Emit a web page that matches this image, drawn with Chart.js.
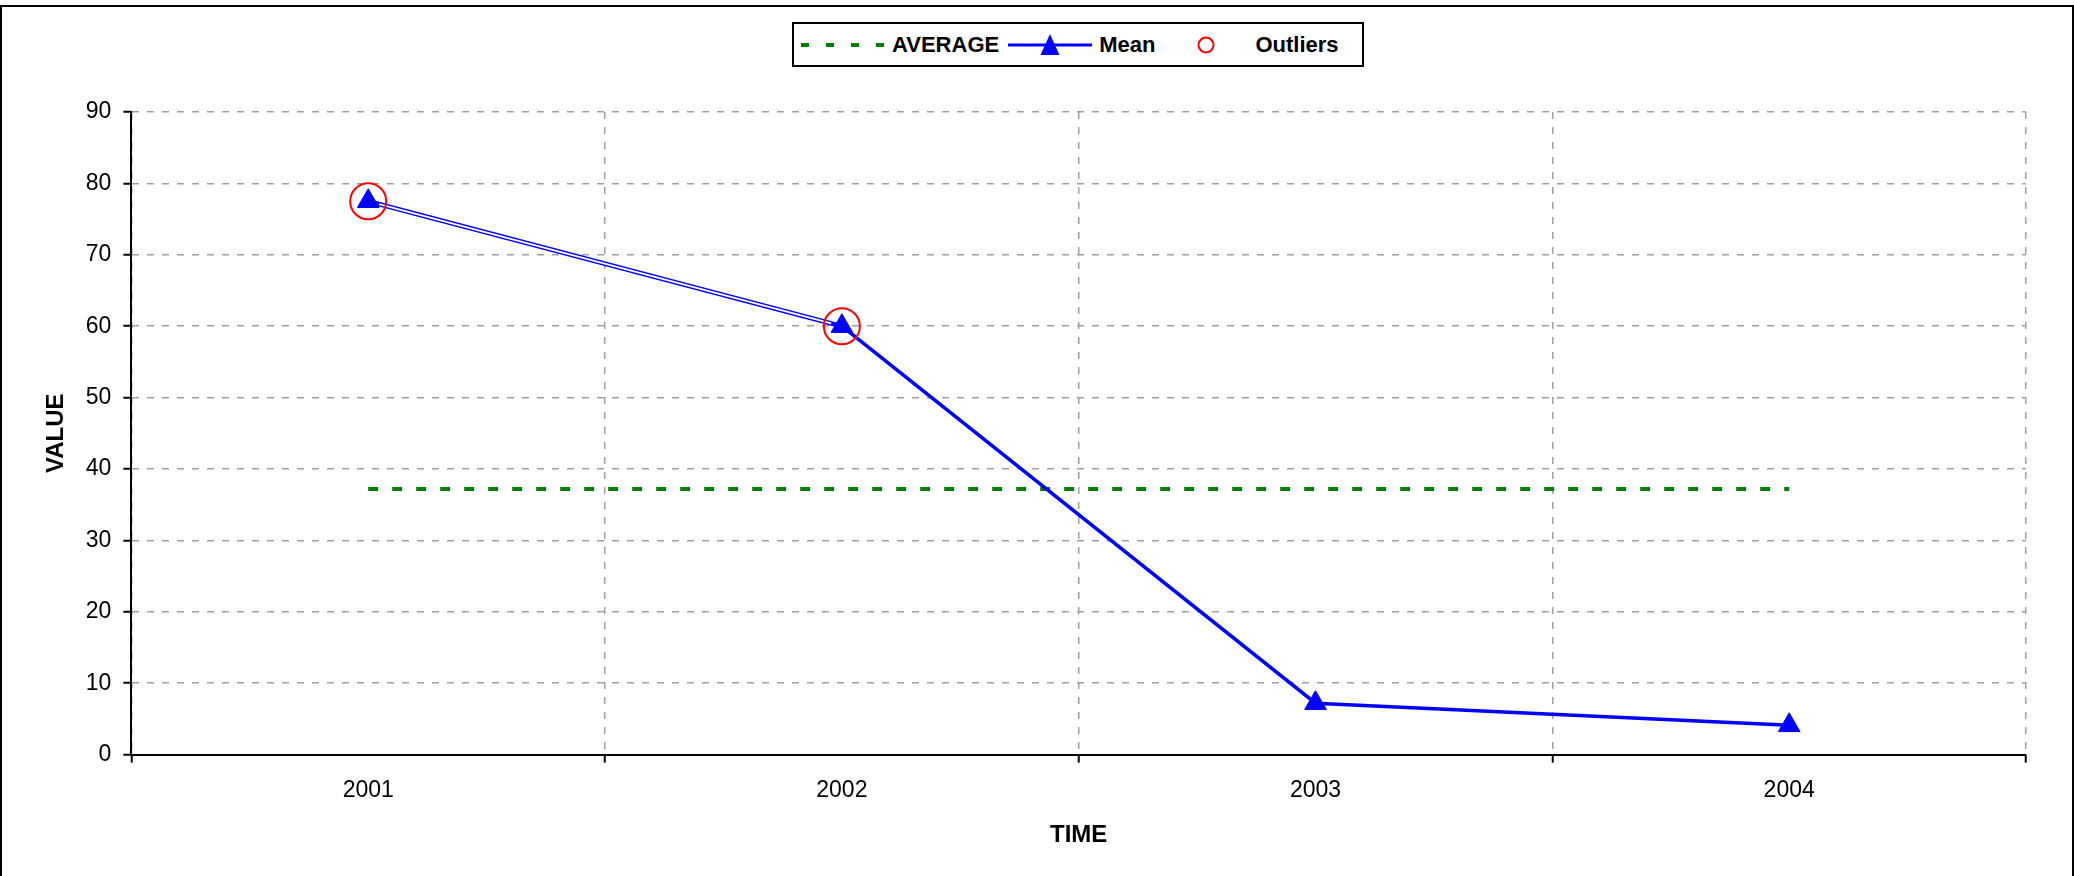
<!DOCTYPE html>
<html>
<head>
<meta charset="utf-8">
<script src="https://cdn.jsdelivr.net/npm/chart.js@4"></script>
<style>
    body { margin: 0; background: #fff; }
    #marco { position: relative; width: 2074px; height: 876px; font-family: 'Liberation Sans', Arial, sans-serif; }
    #borde { position: absolute; left: 0; top: 5px; width: 2074px; height: 880px; border: 2px solid #000; box-sizing: border-box; pointer-events: none; }
    #leyenda { position: absolute; left: 792px; top: 22px; width: 572px; height: 45px; border: 2px solid #000; box-sizing: border-box;
        display: flex; align-items: center; padding-left: 7px; background: #fff; }
    .item { display: flex; align-items: center; margin-right: 9px; }
    .item span { font-weight: bold; font-size: 22px; margin-left: 7px; color: #000; }
</style>
</head>
<body>
<div id="marco">
    <canvas id="grafico"></canvas>
    <div id="borde"></div>
    <div id="leyenda"></div>
</div>
<script>
const anios = ['2001', '2002', '2003', '2004'];
const valoresMedia = [77.5, 60, 7.2, 4.1];
const valoresPromedio = [37.2, 37.2, 37.2, 37.2];
const valoresAtipicos = [77.5, 60, null, null];
const ticksY = [0, 10, 20, 30, 40, 50, 60, 70, 80, 90];

const fuente = "'Liberation Sans', Arial, sans-serif";

// linea doble en el primer tramo de la media
const lineaDoble = {
    id: 'lineaDoble',
    afterDatasetDraw(chart, args) {
        if (chart.data.datasets[args.index].label !== 'Mean') return;
        const a = args.meta.data[0], b = args.meta.data[1];
        const dx = b.x - a.x, dy = b.y - a.y;
        const len = Math.sqrt(dx * dx + dy * dy);
        const ux = dx / len, uy = dy / len;
        const c = chart.ctx;
        c.save();
        c.strokeStyle = '#fff';
        c.lineWidth = 1.8;
        c.beginPath();
        c.moveTo(a.x + ux * 11, a.y + uy * 11);
        c.lineTo(b.x - ux * 11, b.y - uy * 11);
        c.stroke();
        c.restore();
    }
};

const ctx = document.getElementById('grafico').getContext('2d');

const miGrafico = new Chart(ctx, {
    type: 'line',
    data: {
        labels: anios,
        datasets: [{
            label: 'AVERAGE',
            data: valoresPromedio,
            borderColor: '#008000',
            borderWidth: 4,
            borderDash: [10, 14],
            pointRadius: 0,
            fill: false,
            order: 2
        }, {
            label: 'Mean',
            data: valoresMedia,
            borderColor: '#0000ff',
            backgroundColor: '#0000ff',
            borderWidth: 3.5,
            pointStyle: 'triangle',
            pointRadius: 12.5,
            pointBorderWidth: 1,
            fill: false,
            order: 1,
            segment: {
                borderWidth: c => c.p0DataIndex === 0 ? 4.6 : 3.5
            }
        }, {
            label: 'Outliers',
            data: valoresAtipicos,
            showLine: false,
            borderColor: '#ff0000',
            backgroundColor: 'rgba(0,0,0,0)',
            pointStyle: 'circle',
            pointRadius: 18,
            pointBorderWidth: 2,
            order: 0
        }]
    },
    options: {
        responsive: true,
        maintainAspectRatio: false,
        animation: false,
        layout: { padding: { top: 112, right: 48, left: 0, bottom: 0 } },
        plugins: {
            legend: { display: false },
            tooltip: { enabled: false }
        },
        scales: {
            x: {
                offset: true,
                grid: {
                    offset: true,
                    color: '#a0a0a0',
                    lineWidth: 1.5,
                    tickColor: '#000',
                    tickWidth: 2,
                    tickLength: 8,
                    tickBorderDash: []
                },
                border: { color: '#000', width: 2, dash: [7, 8] },
                ticks: { color: '#000', padding: 14, font: { family: fuente, size: 23 } },
                title: {
                    display: true,
                    text: 'TIME',
                    color: '#000',
                    font: { family: fuente, size: 24, weight: 'bold' },
                    padding: { top: 3, bottom: 26 }
                }
            },
            y: {
                min: 0,
                max: 90,
                afterBuildTicks: axis => { axis.ticks = ticksY.map(v => ({ value: v })); },
                grid: {
                    color: '#a0a0a0',
                    lineWidth: 1.5,
                    tickColor: '#000',
                    tickWidth: 2,
                    tickLength: 8,
                    tickBorderDash: []
                },
                border: { color: '#000', width: 2, dash: [7, 8] },
                ticks: { color: '#000', padding: 12, font: { family: fuente, size: 23 } },
                title: {
                    display: true,
                    text: 'VALUE',
                    color: '#000',
                    font: { family: fuente, size: 24, weight: 'bold' },
                    padding: { top: 42, bottom: 3 }
                }
            }
        }
    },
    plugins: [lineaDoble]
});

// leyenda en html a partir de los datasets
const simbolos = {
    'AVERAGE': '<line x1="0" y1="22" x2="84" y2="22" stroke="#008000" stroke-width="4" stroke-dasharray="8 17"/>',
    'Mean': '<line x1="0" y1="22" x2="84" y2="22" stroke="#0000ff" stroke-width="3"/><polygon points="42,11 32.5,32 51.5,32" fill="#0000ff"/>',
    'Outliers': '<circle cx="42" cy="22" r="7.5" fill="none" stroke="#ff0000" stroke-width="2"/>'
};
const leyenda = document.getElementById('leyenda');
miGrafico.data.datasets.forEach(ds => {
    const div = document.createElement('div');
    div.className = 'item';
    div.innerHTML = '<svg width="84" height="44">' + simbolos[ds.label] + '</svg><span>' + ds.label + '</span>';
    leyenda.appendChild(div);
});
</script>
</body>
</html>
